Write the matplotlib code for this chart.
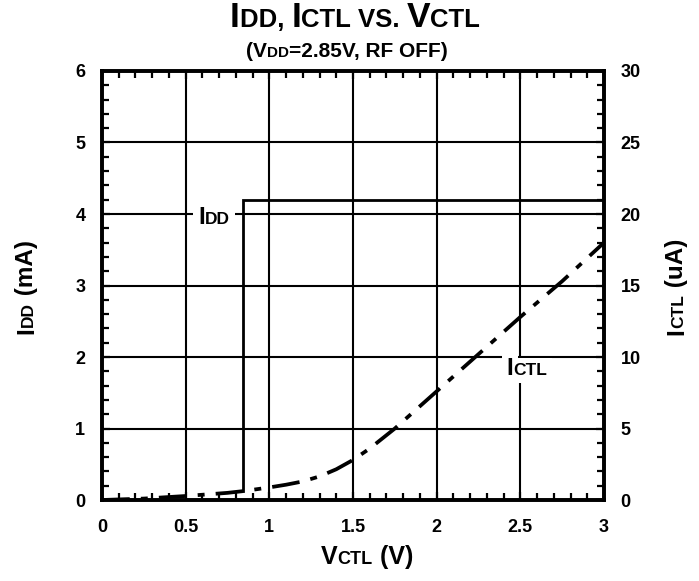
import matplotlib
matplotlib.use("Agg")
import matplotlib.pyplot as plt
from matplotlib import transforms
from matplotlib.ticker import MultipleLocator

# data
vctl = [0, 0.25, 0.5, 0.75, 0.85, 1.0, 1.1, 1.2, 1.3, 1.4, 1.5, 1.6, 1.75, 2.0, 2.25, 2.5, 2.75, 3.0]
ictl_ua = [0, 0.1, 0.28, 0.5, 0.63, 0.88, 1.07, 1.3, 1.65, 2.15, 2.8, 3.6, 5.0, 7.6, 10.2, 12.8, 15.3, 18.0]
idd_v = [0.84, 0.84, 3.0]
idd_ma = [0.12, 4.2, 4.2]

plt.rcParams['font.family'] = ['Liberation Sans', 'DejaVu Sans']
plt.rcParams['font.weight'] = 'bold'
plt.rcParams['lines.scale_dashes'] = False

BIG = 17.5
SMALL = 12.5

fig = plt.figure(figsize=(6.99, 5.81), dpi=100)
ax = fig.add_axes([0.1459, 0.1394, 0.7182, 0.7384])
ax2 = ax.twinx()
renderer = fig.canvas.get_renderer()


def caps_text(x, y, parts, transform, rotation=0, center=True, box=False):
    # small caps: draw pieces of different size one after another on one baseline
    widths = []
    for s, size in parts:
        t = fig.text(0, 0, s, fontsize=size, fontweight='bold')
        widths.append(t.get_window_extent(renderer).width)
        t.remove()
    passes = ['box', 'text'] if box else ['text']
    for p in passes:
        pos = -sum(widths) / 2 if center else 0
        for (s, size), w in zip(parts, widths):
            if rotation == 90:
                tr = transforms.offset_copy(transform, fig=fig, x=0, y=pos, units='dots')
            else:
                tr = transforms.offset_copy(transform, fig=fig, x=pos, y=0, units='dots')
            kw = {}
            if p == 'box':
                kw['bbox'] = dict(facecolor='white', edgecolor='none', pad=3.5)
                kw['color'] = 'white'
                kw['zorder'] = 4
            else:
                kw['zorder'] = 5
            fig.text(x, y, s, transform=tr, fontsize=size, fontweight='bold',
                     rotation=rotation, rotation_mode='anchor',
                     ha='left', va='baseline', **kw)
            pos += w


# curves
ax.plot(idd_v, idd_ma, color='black', lw=2.0, solid_joinstyle='miter', zorder=3)
ax2.plot(vctl, ictl_ua, color='black', lw=2.7, linestyle=(0, (20, 8, 5, 8)), zorder=3)

# axes
ax.set_xlim(0, 3)
ax.set_ylim(0, 6)
ax2.set_ylim(0, 30)
ax.xaxis.set_major_locator(MultipleLocator(0.5))
ax.xaxis.set_minor_locator(MultipleLocator(0.1))
ax.yaxis.set_major_locator(MultipleLocator(1))
ax.yaxis.set_minor_locator(MultipleLocator(0.2))
ax2.yaxis.set_major_locator(MultipleLocator(5))
ax2.yaxis.set_minor_locator(MultipleLocator(1))
ax.set_xticks([0, 0.5, 1, 1.5, 2, 2.5, 3])
ax.set_xticklabels(['0', '0.5', '1', '1.5', '2', '2.5', '3'])

ax.grid(True, which='major', color='black', lw=1.5)
ax.tick_params(which='both', direction='in', top=True, right=False,
               labelsize=13, pad=12, width=1.6)
ax.tick_params(which='major', length=6)
ax.tick_params(which='minor', length=5)
ax.tick_params(axis='x', pad=14)
ax2.tick_params(which='both', direction='in', labelsize=13, pad=12, width=1.6)
ax2.tick_params(which='major', length=6)
ax2.tick_params(which='minor', length=5)
for a in (ax, ax2):
    for sp in a.spines.values():
        sp.set_linewidth(2.6)
    for lab in a.get_xticklabels() + a.get_yticklabels():
        lab.set_fontweight('bold')

# titles and axis labels
ft = fig.transFigure
caps_text(355 / 699, 1 - 27 / 581, [('I', 25.5), ('DD, ', 18.5), ('I', 25.5), ('CTL ', 18.5),
                                    ('VS. ', 18.5), ('V', 25.5), ('CTL', 18.5)], ft)
caps_text(347 / 699, 1 - 57 / 581, [('(V', 15), ('DD', 11), ('=2.85V, RF OFF)', 15)], ft)
caps_text(367 / 699, 1 - 564 / 581, [('V', 18), ('CTL', 13), (' (V)', 18)], ft)
caps_text(33 / 699, 1 - 287 / 581, [('I', BIG), ('DD', SMALL), (' (mA)', BIG)], ft, rotation=90)
caps_text(683 / 699, 1 - 287 / 581, [('I', BIG), ('CTL', SMALL), (' (uA)', BIG)], ft, rotation=90)

# inline curve labels
caps_text(0.67, 3.86, [('I', BIG), ('DD', SMALL)], ax.transData, box=True)
caps_text(2.54, 8.72, [('I', BIG), ('CTL', SMALL)], ax2.transData, box=True)

fig.savefig('out.png', dpi=100)
